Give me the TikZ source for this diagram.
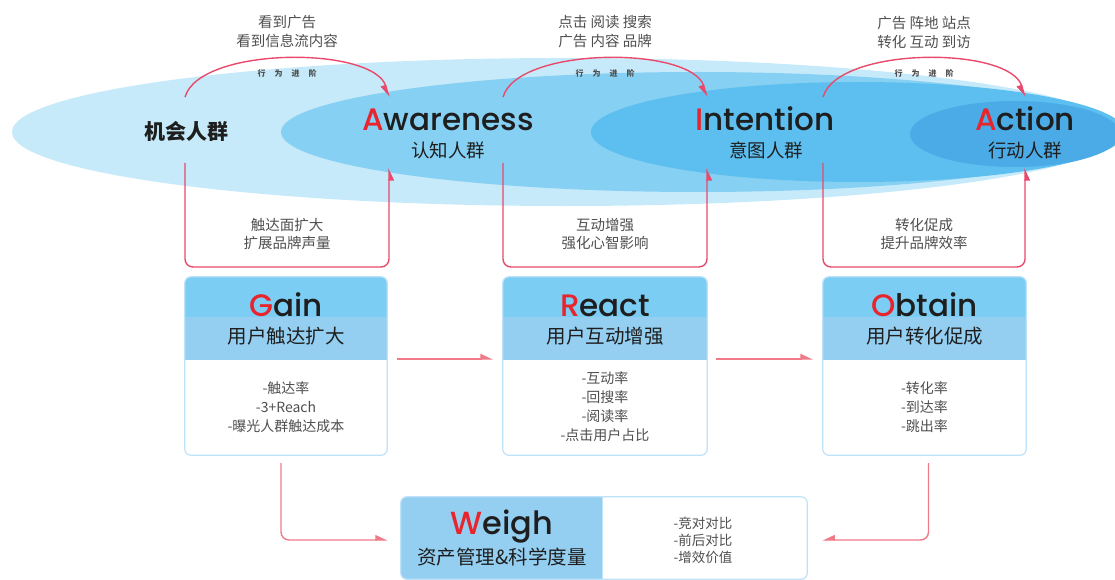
\documentclass[tikz,border=0pt]{standalone}
\usepackage{fontspec}
\setmainfont{Noto Sans CJK SC}
\newfontfamily\cjk{Noto Sans CJK SC}
\newfontfamily\pop{Poppins Medium}
\usetikzlibrary{arrows.meta,calc}
\definecolor{ea}{HTML}{C6EAFA}
\definecolor{eb}{HTML}{86D0F3}
\definecolor{ec}{HTML}{5DBEF0}
\definecolor{ed}{HTML}{4AABE6}
\definecolor{redA}{HTML}{E8242C}
\definecolor{loopred}{HTML}{E94A6C}
\definecolor{lightred}{HTML}{F07A88}
\definecolor{hdrA}{HTML}{7BCDF4}
\definecolor{hdrB}{HTML}{94CFF2}
\definecolor{bord}{HTML}{BEE2F7}
\definecolor{txt}{HTML}{1E1E1E}
\definecolor{txtgray}{HTML}{4F4F4F}
\tikzset{
 loopline/.style={draw=loopred, line width=1.4pt},
 lightline/.style={draw=lightred, line width=1.4pt},
 harp/.style={-{Triangle[harpoon,length=11pt,width=10pt]}},
 harps/.style={-{Triangle[harpoon,swap,length=11pt,width=10pt]}},
 stagebody/.style={draw=none, fill=white, rounded corners=6pt, minimum height=178pt, inner sep=0pt},
 heading/.style={font=\pop\fontsize{31}{31}\selectfont, text=txt, inner sep=0pt, anchor=base},
 subhead/.style={font=\cjk\fontsize{19.5}{19.5}\selectfont, text=txt, inner sep=0pt},
 bodytxt/.style={font=\cjk\fontsize{14}{19}\selectfont, text=txtgray, align=center, inner sep=0pt},
 smalltxt/.style={font=\cjk\fontsize{14.5}{19}\selectfont, text=txtgray, align=center, inner sep=0pt},
 midtxt/.style={font=\cjk\fontsize{14.5}{18}\selectfont, text=txtgray, align=center, inner sep=0pt},
 tinytxt/.style={font=\cjk\bfseries\fontsize{8}{8}\selectfont, text=txtgray, inner sep=0pt},
 elltxt/.style={font=\cjk\fontsize{18.5}{18.5}\selectfont, text=txt, inner sep=0pt},
}
\newcommand\stagebox[7]{%
 \node[stagebody, minimum width=#3] (#1) at (#2,366) {};
 \begin{scope}
  \clip (#1.north west) rectangle ($(#1.north east)+(0,83)$);
  \fill[hdrA, rounded corners=6pt] (#1.north west) rectangle ($(#1.north east)+(0,95)$);
 \end{scope}
 \fill[hdrB] ($(#1.north west)+(0,40)$) rectangle ($(#1.north east)+(0,83)$);
 \draw[bord, line width=1.2pt, rounded corners=6pt] (#1.north west) rectangle (#1.south east);
 \node[heading] (#1h) at (#2,316) {\textcolor{redA}{#4}#5};
 \node[subhead] (#1s) at (#2,336) {#6};
 \node[bodytxt] (#1b) at (#2,407) {#7};
}
\newcommand\behav[4]{%
 \node[tinytxt] (#1) at (#2,73) {行\hspace{9pt}为\hspace{9pt}进\hspace{9pt}阶};
 \node[smalltxt] (#1t) at (#2,32) {#3\\#4};
}
\begin{document}
\begin{tikzpicture}[x=1pt,y=-1pt]
\useasboundingbox (0,0) rectangle (1115,580);
\fill[white] (0,0) rectangle (1115,580);
% ellipses
\fill[ea] (565,132) ellipse [x radius=553, y radius=74];
\fill[eb] (698,132) ellipse [x radius=417, y radius=60];
\fill[ec] (858,132) ellipse [x radius=267, y radius=50];
\fill[ed] (1015,134) ellipse [x radius=105, y radius=33];
% ellipse labels
\node[font=\cjk\bfseries\fontsize{21}{21}\selectfont, text=txt, inner sep=0pt] (jh) at (186,131) {机会人群};
\node[heading] (aw) at (448,131) {\textcolor{redA}{A}wareness};
\node[elltxt] (awc) at (448,150) {认知人群};
\node[heading] (in) at (765,131) {\textcolor{redA}{I}ntention};
\node[elltxt] (inc) at (766,150) {意图人群};
\node[heading] (ac) at (1025,131) {\textcolor{redA}{A}ction};
\node[elltxt] (acc) at (1025,150) {行动人群};
% arc / loop endpoints
\coordinate (a1s) at (185,97);  \coordinate (a1e) at (389,97);
\coordinate (a2s) at (503,97);  \coordinate (a2e) at (707,97);
\coordinate (a3s) at (823,97);  \coordinate (a3e) at (1025,97);
\coordinate (l1s) at (185,163); \coordinate (l1e) at (389,168);
\coordinate (l2s) at (503,163); \coordinate (l2e) at (707,168);
\coordinate (l3s) at (823,163); \coordinate (l3e) at (1025,168);
% top arcs
\draw[loopline, harps] (a1s) .. controls +(15,-51) and +(-15,-51) .. (a1e);
\draw[loopline, harps] (a2s) .. controls +(15,-51) and +(-15,-51) .. (a2e);
\draw[loopline, harps] (a3s) .. controls +(15,-51) and +(-15,-51) .. (a3e);
\behav{b1}{287}{看到广告}{看到信息流内容}
\behav{b2}{605}{点击 阅读 搜索}{广告 内容 品牌}
\behav{b3}{924}{广告 阵地 站点}{转化 互动 到访}
% bottom loops
\draw[loopline, harps, rounded corners=8pt] (l1s) -- ++(0,104) -| (l1e);
\draw[loopline, harps, rounded corners=8pt] (l2s) -- ++(0,104) -| (l2e);
\draw[loopline, harps, rounded corners=8pt] (l3s) -- ++(0,104) -| (l3e);
\node[midtxt] (m1) at (287,234) {触达面扩大\\扩展品牌声量};
\node[midtxt] (m2) at (605,234) {互动增强\\强化心智影响};
\node[midtxt] (m3) at (924,234) {转化促成\\提升品牌效率};
% stage boxes
\stagebox{gain}{286}{202pt}{G}{ain}{用户触达扩大}{-触达率\\-3+Reach\\-曝光人群触达成本}
\stagebox{react}{605}{204pt}{R}{eact}{用户互动增强}{\fontsize{14}{18.5}\selectfont-互动率\\-回搜率\\-阅读率\\-点击用户占比}
\stagebox{obtain}{924.5}{203pt}{O}{btain}{用户转化促成}{-转化率\\-到达率\\-跳出率}
% weigh box
\node[draw=none, fill=white, rounded corners=6pt, minimum width=406pt, minimum height=82pt, inner sep=0pt] (weigh) at (604,538) {};
\begin{scope}
 \clip (weigh.north west) rectangle ($(weigh.south west)+(202,0)$);
 \fill[hdrB, rounded corners=6pt] (weigh.north west) rectangle ($(weigh.south west)+(230,0)$);
\end{scope}
\draw[bord, line width=1.2pt, rounded corners=6pt] (weigh.north west) rectangle (weigh.south east);
\draw[bord, line width=1.2pt] ($(weigh.north west)+(202,0)$) -- ($(weigh.south west)+(202,0)$);
\node[heading, font=\pop\fontsize{32}{32}\selectfont] (wh) at (502,534) {\textcolor{redA}{W}eigh};
\node[subhead] (ws) at (502,557) {资产管理\&科学度量};
\node[bodytxt, font=\cjk\fontsize{13.5}{17}\selectfont] (wb) at (703,540) {-竞对对比\\-前后对比\\-增效价值};
% connectors between stages
\draw[lightline, harp] ($(gain.north east)+(10,82)$) -- ($(react.north west)+(-10,82)$);
\draw[lightline, harp] ($(react.north east)+(9,82)$) -- ($(obtain.north west)+(-10,82)$);
\draw[lightline, harp, rounded corners=8pt] ($(gain.south)+(-5,8)$) |- ($(weigh.west)+(-13,2)$);
\draw[lightline, harps, rounded corners=8pt] ($(obtain.south)+(4,8)$) |- ($(weigh.east)+(15,2)$);
\end{tikzpicture}
\end{document}
